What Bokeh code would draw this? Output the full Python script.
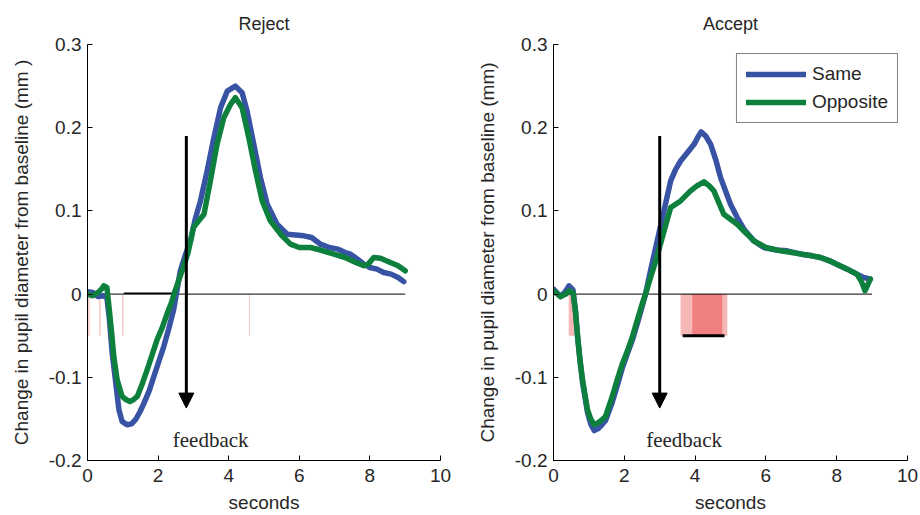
from bokeh.plotting import figure
from bokeh.layouts import row
from bokeh.models import Range1d, FixedTicker, Arrow, NormalHead, Legend, LegendItem, Label
from bokeh.embed import file_html
from bokeh.resources import INLINE

# ---------------- data ----------------
titles = ["Reject", "Accept"]
ylabels = ["Change in pupil diameter from baseline (mm )",
           "Change in pupil diameter from baseline (mm)"]
series_names = ["Same", "Opposite"]
x_ticks = [0, 2, 4, 6, 8, 10]
y_ticks = [-0.2, -0.1, 0, 0.1, 0.2, 0.3]

rej_t_same = [0, 0.15, 0.3, 0.45, 0.55, 0.62, 0.7, 0.79, 0.89, 0.98, 1.12, 1.25, 1.36, 1.48, 1.6,
              1.75, 1.88, 2.02, 2.16, 2.3, 2.44, 2.63, 2.78, 2.92, 3.05, 3.2, 3.39, 3.58, 3.77, 3.96,
              4.19, 4.38, 4.52, 4.71, 4.9, 5.09, 5.37, 5.66, 5.9, 6.13, 6.35, 6.6, 6.85, 7.1, 7.3,
              7.45, 7.65, 7.83, 8.0, 8.2, 8.39, 8.6, 8.8, 8.96]
rej_same = [0.003, 0.002, -0.003, -0.002, -0.004, -0.03, -0.071, -0.103, -0.139, -0.153, -0.157,
            -0.156, -0.151, -0.142, -0.131, -0.116, -0.099, -0.081, -0.063, -0.042, -0.019, 0.028,
            0.048, 0.064, 0.09, 0.112, 0.148, 0.188, 0.224, 0.244, 0.250, 0.242, 0.22, 0.18, 0.14,
            0.108, 0.084, 0.072, 0.071, 0.070, 0.068, 0.06, 0.056, 0.054, 0.05, 0.048, 0.042, 0.036,
            0.032, 0.03, 0.026, 0.024, 0.02, 0.015]

rej_t_opp = [0, 0.15, 0.3, 0.4, 0.46, 0.55, 0.62, 0.68, 0.745, 0.84, 0.98, 1.1, 1.2, 1.3, 1.41,
             1.55, 1.69, 1.83, 1.97, 2.12, 2.26, 2.38, 2.49, 2.68, 2.85, 3.0, 3.15, 3.3, 3.48, 3.67,
             3.86, 4.05, 4.19, 4.38, 4.57, 4.76, 4.95, 5.18, 5.47, 5.75, 6.0, 6.32, 6.6, 6.98, 7.3,
             7.6, 7.83, 7.95, 8.11, 8.3, 8.58, 8.8, 9.0]
rej_opp = [0.0, -0.002, 0.002, 0.006, 0.01, 0.008, -0.02, -0.045, -0.075, -0.103, -0.123, -0.127,
           -0.129, -0.127, -0.123, -0.108, -0.091, -0.073, -0.055, -0.04, -0.023, -0.01, 0.005,
           0.028, 0.05, 0.08, 0.088, 0.096, 0.136, 0.18, 0.212, 0.228, 0.236, 0.224, 0.188, 0.148,
           0.112, 0.088, 0.072, 0.06, 0.056, 0.056, 0.053, 0.048, 0.044, 0.038, 0.034, 0.036, 0.044,
           0.043, 0.038, 0.034, 0.028]

acc_t_same = [0, 0.2, 0.35, 0.44, 0.55, 0.62, 0.68, 0.75, 0.82, 0.96, 1.05, 1.15, 1.25, 1.35, 1.47,
              1.66, 1.8, 1.95, 2.1, 2.23, 2.37, 2.51, 2.6, 2.75, 2.93, 3.12, 3.31, 3.45, 3.59, 3.78,
              3.97, 4.07, 4.17, 4.3, 4.44, 4.58, 4.72, 4.86, 5.0, 5.19, 5.38, 5.66, 5.94, 6.3, 6.6,
              7.0, 7.3, 7.54, 7.8, 8.0, 8.3, 8.57, 8.76, 8.95]
acc_same = [0.006, -0.003, 0.004, 0.01, 0.005, -0.02, -0.051, -0.08, -0.106, -0.142, -0.156, -0.164,
            -0.162, -0.158, -0.152, -0.13, -0.11, -0.088, -0.07, -0.055, -0.035, -0.014, 0.0, 0.03,
            0.064, 0.1, 0.136, 0.15, 0.16, 0.17, 0.18, 0.188, 0.195, 0.19, 0.18, 0.162, 0.14, 0.124,
            0.108, 0.092, 0.078, 0.064, 0.056, 0.053, 0.052, 0.048, 0.046, 0.044, 0.04, 0.036, 0.03,
            0.024, 0.02, 0.018]

acc_t_opp = [0, 0.2, 0.35, 0.44, 0.55, 0.62, 0.68, 0.75, 0.82, 0.96, 1.05, 1.15, 1.25, 1.35, 1.47,
             1.66, 1.8, 1.95, 2.1, 2.23, 2.37, 2.51, 2.6, 2.74, 2.89, 3.02, 3.15, 3.31, 3.45, 3.59,
             3.73, 3.87, 4.05, 4.25, 4.4, 4.53, 4.67, 4.81, 5.0, 5.19, 5.4, 5.66, 6.0, 6.41, 6.6,
             7.0, 7.3, 7.54, 7.8, 8.0, 8.3, 8.57, 8.7, 8.8, 8.95]
acc_opp = [0.004, -0.003, 0.0, 0.004, 0.002, -0.02, -0.051, -0.08, -0.103, -0.139, -0.15, -0.157,
           -0.155, -0.152, -0.147, -0.123, -0.103, -0.083, -0.067, -0.051, -0.031, -0.011, 0.0, 0.02,
           0.04, 0.06, 0.08, 0.104, 0.108, 0.112, 0.118, 0.124, 0.13, 0.135, 0.13, 0.124, 0.11,
           0.096, 0.09, 0.084, 0.075, 0.064, 0.056, 0.052, 0.051, 0.048, 0.046, 0.044, 0.04, 0.036,
           0.03, 0.024, 0.015, 0.004, 0.018]

trace_end = [9.0, 9.0]            # zero reference line runs to the end of the traces
feedback_time = [2.8, 3.0]        # feedback onset (s)
arrow_top = 0.19
arrow_tip = -0.137
sig_depth = -0.05                 # significance markers hang from 0 down to this level

rej_sig_left = [0.025, 0.335, 0.985, 4.58]
rej_sig_right = [0.055, 0.365, 1.015, 4.60]
rej_bar = [1.03, 2.5]

acc_sig_light_left = [0.43, 3.59]
acc_sig_light_right = [0.58, 4.91]
acc_sig_dark_left = [3.92]
acc_sig_dark_right = [4.77]
acc_bar = [3.65, 4.83]

# ---------------- styling ----------------
BLUE = "#3953A4"
GREEN = "#0E803E"
TXT = "#262626"
SANS = "Liberation Sans"
SERIF = "Liberation Serif"
FS = "19px"


def make_panel(i, t_s, v_s, t_o, v_o, left_border, right_border):
    p = figure(width=460, height=515, x_range=Range1d(0, 10), y_range=Range1d(-0.2, 0.3),
               output_backend="svg", toolbar_location=None,
               min_border_left=left_border, min_border_right=right_border,
               min_border_top=43, min_border_bottom=54)
    p.outline_line_color = None
    p.grid.visible = False
    p.background_fill_color = "white"
    p.border_fill_color = "white"

    p.title.text = titles[i]
    p.title.align = "center"
    p.title.text_font = SANS
    p.title.text_font_style = "normal"
    p.title.text_font_size = "18px"
    p.title.text_color = TXT
    p.title.standoff = 22

    p.xaxis.ticker = FixedTicker(ticks=x_ticks)
    p.yaxis.ticker = FixedTicker(ticks=y_ticks)
    p.yaxis.major_label_overrides = {v: ("0" if v == 0 else f"{v:g}") for v in y_ticks}
    p.xaxis.axis_label = "seconds"
    p.yaxis.axis_label = ylabels[i]
    for ax in (p.xaxis, p.yaxis):
        ax.major_tick_in = 5
        ax.major_tick_out = 0
        ax.minor_tick_line_color = None
        ax.axis_line_color = "black"
        ax.major_tick_line_color = "black"
        ax.major_label_text_font = SANS
        ax.major_label_text_font_size = FS
        ax.major_label_text_color = TXT
        ax.axis_label_text_font = SANS
        ax.axis_label_text_font_size = FS
        ax.axis_label_text_font_style = "normal"
        ax.axis_label_text_color = TXT
    p.xaxis.major_label_standoff = 8
    p.xaxis.axis_label_standoff = 7
    p.yaxis.major_label_standoff = 6
    p.yaxis.axis_label_standoff = 14

    # zero reference line
    p.line([0, trace_end[i]], [0, 0], line_color="black", line_width=1)

    rs = p.line(t_s, v_s, line_color=BLUE, line_width=5.5, line_join="round", line_cap="round")
    ro = p.line(t_o, v_o, line_color=GREEN, line_width=5.5, line_join="round", line_cap="round")

    fx = feedback_time[i]
    p.add_layout(Arrow(end=NormalHead(size=15, fill_color="black", line_color="black"),
                       x_start=fx, y_start=arrow_top, x_end=fx, y_end=arrow_tip,
                       line_color="black", line_width=3))
    p.add_layout(Label(x=fx + 0.69, y=-0.175, text="feedback", text_font=SERIF,
                       text_font_size="21px", text_color=TXT, text_align="center",
                       text_baseline="alphabetic"))
    return p, rs, ro


p1, r1s, r1o = make_panel(0, rej_t_same, rej_same, rej_t_opp, rej_opp, 87, 20)
p2, r2s, r2o = make_panel(1, acc_t_same, acc_same, acc_t_opp, acc_opp, 93, 13)

# significance markers (drawn underneath the traces)
q1 = p1.quad(left=rej_sig_left, right=rej_sig_right, top=[0] * len(rej_sig_left),
             bottom=[sig_depth] * len(rej_sig_left), fill_color="#F4A3A3", line_color=None,
             fill_alpha=0.85)
b1 = p1.line(rej_bar, [0.001, 0.001], line_color="black", line_width=1.5)
q2 = p2.quad(left=acc_sig_light_left, right=acc_sig_light_right,
             top=[0] * len(acc_sig_light_left), bottom=[sig_depth] * len(acc_sig_light_left),
             fill_color="#F6B7B7", line_color=None)
q3 = p2.quad(left=acc_sig_dark_left, right=acc_sig_dark_right,
             top=[0] * len(acc_sig_dark_left), bottom=[sig_depth] * len(acc_sig_dark_left),
             fill_color="#F08080", line_color=None)
b2 = p2.line(acc_bar, [sig_depth, sig_depth], line_color="black", line_width=3)

for p, extra in ((p1, [q1, b1]), (p2, [q2, q3, b2])):
    rest = [r for r in p.renderers if r not in extra]
    p.renderers = extra + rest

legend = Legend(items=[LegendItem(label=series_names[0], renderers=[r2s]),
                       LegendItem(label=series_names[1], renderers=[r2o])],
                location="top_right")
legend.border_line_color = "black"
legend.border_line_width = 1.2
legend.background_fill_color = "white"
legend.background_fill_alpha = 1
legend.label_text_font = SANS
legend.label_text_font_size = FS
legend.label_text_color = TXT
legend.glyph_width = 60
legend.glyph_height = 20
legend.label_height = 20
legend.label_standoff = 6
legend.padding = 9
legend.spacing = 6
legend.margin = 9
p2.add_layout(legend)

layout = row(p1, p2)
open("out.html", "w").write(file_html(layout, INLINE))
